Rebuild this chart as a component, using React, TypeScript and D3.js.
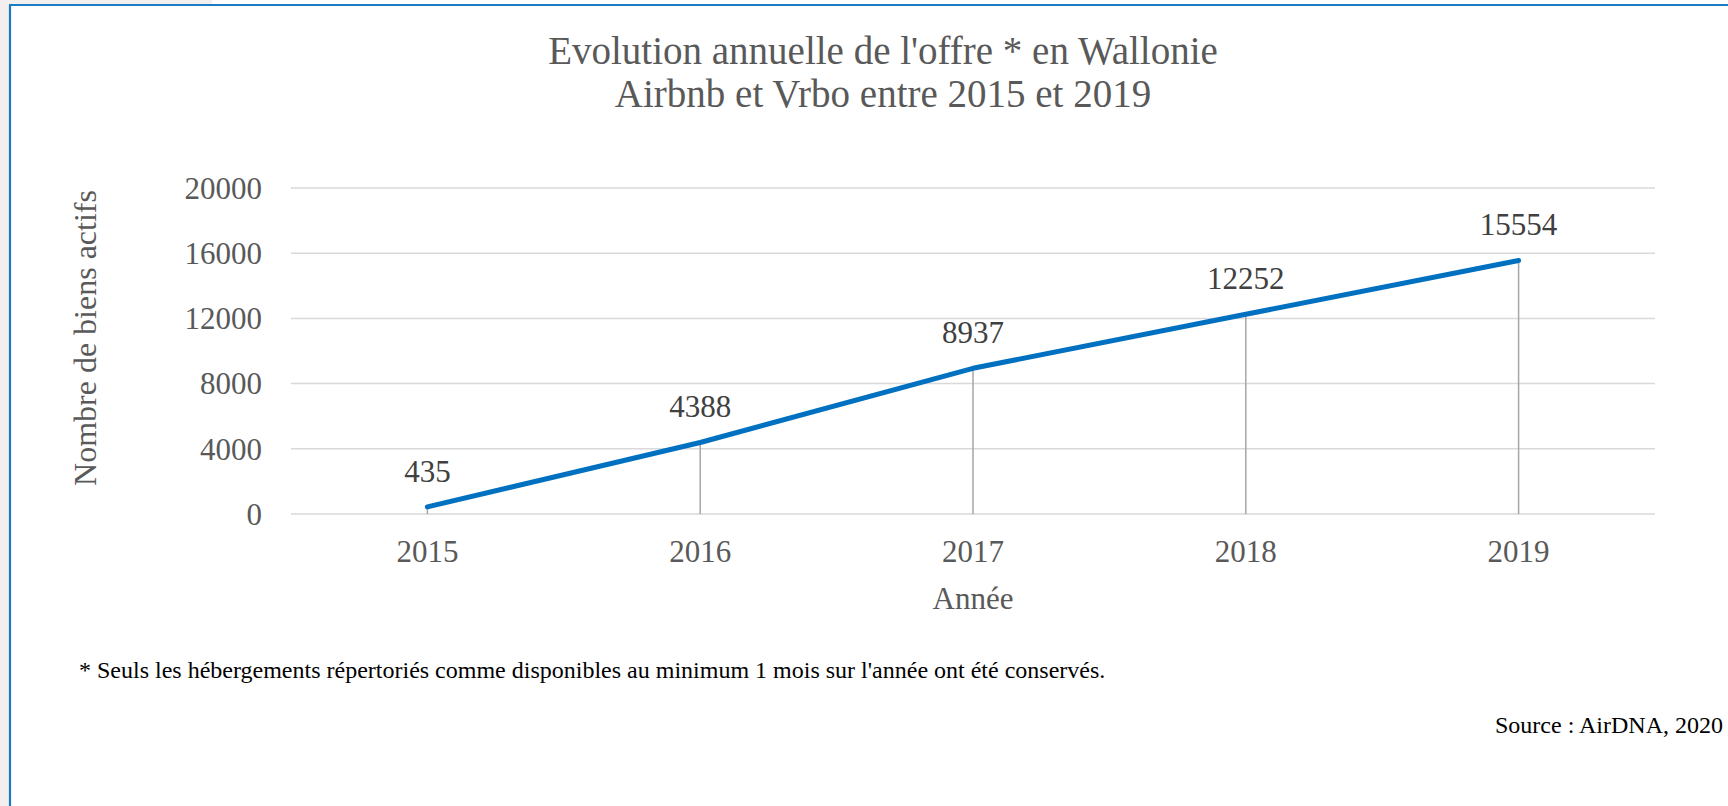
import { useRef, useEffect } from 'react';
import * as d3 from 'd3';

const years = ['2015', '2016', '2017', '2018', '2019'];
const offre = [435, 4388, 8937, 12252, 15554];
const yTicks = [0, 4000, 8000, 12000, 16000, 20000];

const titleLines = ["Evolution annuelle de l'offre * en Wallonie", 'Airbnb et Vrbo entre 2015 et 2019'];
const yTitle = 'Nombre de biens actifs';
const xTitle = 'Année';
const footnote = "* Seuls les hébergements répertoriés comme disponibles au minimum 1 mois sur l'année ont été conservés.";
const source = 'Source : AirDNA, 2020';

const W = 1728;
const H = 806;
const font = 'Liberation Serif';

const App = () => {
  const ref = useRef<SVGSVGElement>(null);

  useEffect(() => {
    const svg = d3.select(ref.current);
    svg.selectAll('*').remove();

    // page frame
    svg.append('rect').attr('width', W).attr('height', H).attr('fill', '#ffffff');
    svg.append('rect').attr('x', 0).attr('y', 0).attr('width', 9).attr('height', H).attr('fill', '#f3efee');
    svg.append('rect').attr('x', 0).attr('y', 0).attr('width', 212).attr('height', 4).attr('fill', '#f3efee');
    svg.append('line').attr('x1', 10).attr('x2', 10).attr('y1', 5).attr('y2', H)
      .attr('stroke', '#1b7bc4').attr('stroke-width', 2.2);
    svg.append('line').attr('x1', 9).attr('x2', W).attr('y1', 5).attr('y2', 5)
      .attr('stroke', '#1b7bc4').attr('stroke-width', 2.2);

    const left = 291;
    const right = 1655;
    const top = 188;
    const bottom = 514;

    const x = d3.scaleBand().domain(years).range([left, right]).padding(0);
    const cx = (d: string) => (x(d) as number) + x.bandwidth() / 2;
    const y = d3.scaleLinear().domain([0, 20000]).range([bottom, top]);

    // gridlines
    svg.append('g')
      .selectAll('line')
      .data(yTicks)
      .enter().append('line')
      .attr('x1', left).attr('x2', right)
      .attr('y1', d => y(d)).attr('y2', d => y(d))
      .attr('stroke', '#d9d9d9').attr('stroke-width', 1.5);

    // y tick labels
    svg.append('g')
      .selectAll('text')
      .data(yTicks)
      .enter().append('text')
      .attr('x', 262)
      .attr('y', d => y(d))
      .attr('dy', '0.35em')
      .attr('text-anchor', 'end')
      .attr('font-size', 31).attr('fill', '#595959')
      .text(d => d);

    // x tick labels
    svg.append('g')
      .selectAll('text')
      .data(years)
      .enter().append('text')
      .attr('x', d => cx(d))
      .attr('y', 562)
      .attr('text-anchor', 'middle')
      .attr('font-size', 31).attr('fill', '#595959')
      .text(d => d);

    // drop lines
    svg.append('g')
      .selectAll('line')
      .data(years)
      .enter().append('line')
      .attr('x1', d => cx(d)).attr('x2', d => cx(d))
      .attr('y1', (d, i) => y(offre[i])).attr('y2', y(0))
      .attr('stroke', '#a6a6a6').attr('stroke-width', 1.5);

    const line = d3.line<number>()
      .x((d, i) => cx(years[i]))
      .y(d => y(d));

    svg.append('path')
      .datum(offre)
      .attr('d', line)
      .attr('fill', 'none')
      .attr('stroke', '#0070c0')
      .attr('stroke-width', 5)
      .attr('stroke-linecap', 'round')
      .attr('stroke-linejoin', 'round');

    // data labels
    svg.append('g')
      .selectAll('text')
      .data(offre)
      .enter().append('text')
      .attr('x', (d, i) => cx(years[i]))
      .attr('y', d => y(d) - 25)
      .attr('text-anchor', 'middle')
      .attr('font-size', 31).attr('fill', '#404040')
      .text(d => d);

    // titles
    svg.append('g')
      .selectAll('text')
      .data(titleLines)
      .enter().append('text')
      .attr('x', 883)
      .attr('y', (d, i) => 64 + i * 43)
      .attr('text-anchor', 'middle')
      .attr('font-size', 39).attr('fill', '#595959')
      .text(d => d);

    svg.append('text')
      .attr('transform', 'translate(96, 338) rotate(-90)')
      .attr('text-anchor', 'middle')
      .attr('font-size', 32).attr('fill', '#595959')
      .text(yTitle);

    svg.append('text')
      .attr('x', (left + right) / 2)
      .attr('y', 609)
      .attr('text-anchor', 'middle')
      .attr('font-size', 31).attr('fill', '#595959')
      .text(xTitle);

    svg.append('text')
      .attr('x', 79)
      .attr('y', 678)
      .attr('font-size', 24).attr('fill', '#000000')
      .text(footnote);

    svg.append('text')
      .attr('x', 1723)
      .attr('y', 733)
      .attr('text-anchor', 'end')
      .attr('font-size', 24).attr('fill', '#000000')
      .text(source);
  }, []);

  return (
    <svg ref={ref} width={W} height={H} fontFamily={font} style={{ position: 'absolute', left: 0, top: 0 }}></svg>
  );
};

export default App;
